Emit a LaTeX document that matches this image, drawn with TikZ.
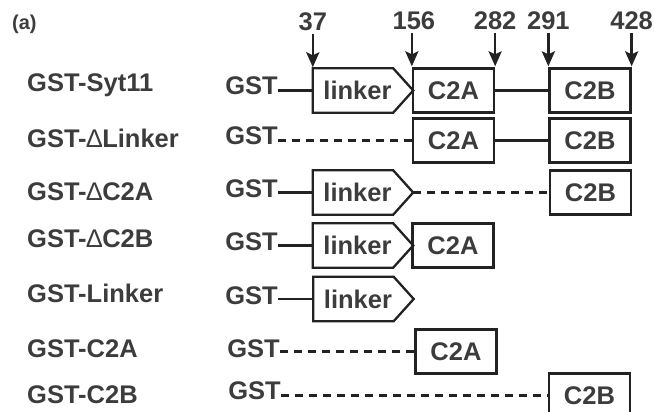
\documentclass[tikz,border=0pt]{standalone}
\usepackage{fontspec}
\setmainfont{Liberation Sans}
\usetikzlibrary{arrows.meta}
\definecolor{txt}{HTML}{3C3C3C}
\definecolor{ink}{HTML}{222222}
\tikzset{
  lbl/.style={font=\fontsize{25.5}{28}\selectfont\bfseries, text=txt, inner sep=0pt, anchor=base west},
  gst/.style={font=\fontsize{25.5}{28}\selectfont\bfseries, text=txt, inner sep=0pt, anchor=base east},
  num/.style={font=\fontsize{25.5}{28}\selectfont\bfseries, text=txt, inner sep=0pt, anchor=base},
  dom/.style={draw=ink, line width=2.3pt, minimum width=81pt, minimum height=44pt, inner sep=0pt,
     font=\fontsize{25.5}{28}\selectfont\bfseries, text=txt},
  lkbox/.style={draw=none, minimum width=80pt, minimum height=44pt, inner sep=0pt,
     font=\fontsize{25.5}{28}\selectfont\bfseries, text=txt},
  lkshape/.style={draw=ink, line width=2.3pt, line join=miter},
  solidc/.style={draw=ink, line width=2.8pt},
  dashc/.style={draw=ink, line width=2.5pt, dash pattern=on 8pt off 6pt},
  arr/.style={draw=ink, line width=2.6pt, -{Stealth[width=13pt,length=15pt,inset=3pt]}},
}
\newcommand{\linkerat}[3]{%
  \node[lkbox] (#1) at (#2,#3) {\hspace*{9pt}linker};
  \draw[lkshape] (#1.north west) -- (#1.north east) -- ([xshift=20pt]#1.east) -- (#1.south east) -- (#1.south west) -- cycle;
  \coordinate (#1tip) at ([xshift=20pt]#1.east);
}
\begin{document}
\begin{tikzpicture}[x=1pt,y=-1pt]
\useasboundingbox (0,0) rectangle (654,412);

% panel label
\node[font=\fontsize{20}{22}\selectfont\bfseries, text=txt, inner sep=0pt, anchor=base west] (pa) at (12,30) {(a)};

% left labels
\node[lbl] (l1) at (27,92) {GST-Syt11};
\node[lbl] (l2) at (27,147) {GST-{\mdseries ∆}Linker};
\node[lbl] (l3) at (27,200) {GST-{\mdseries ∆}C2A};
\node[lbl] (l4) at (27,247) {GST-{\mdseries ∆}C2B};
\node[lbl] (l5) at (27,302) {GST-Linker};
\node[lbl] (l6) at (27,357) {GST-C2A};
\node[lbl] (l7) at (27,403) {GST-C2B};

% GST labels
\node[gst] (g1) at (278,95) {GST};
\node[gst] (g2) at (278,145) {GST};
\node[gst] (g3) at (278,197) {GST};
\node[gst] (g4) at (278,250) {GST};
\node[gst] (g5) at (278,304) {GST};
\node[gst] (g6) at (280,357) {GST};
\node[gst] (g7) at (281,399) {GST};

% Row 1
\linkerat{lk1}{353}{90.5}
\node[dom] (a1) at (453.5,90.5) {C2A};
\node[dom] (b1) at (590,90.5) {C2B};
\draw[solidc] (g1.east |- lk1.west) -- (lk1.west);
\draw[solidc] (a1.east) -- (b1.west);

% Row 2
\node[dom] (a2) at (453.5,140.5) {C2A};
\node[dom] (b2) at (590,140.5) {C2B};
\draw[dashc] (g2.east |- a2.west) -- (a2.west);
\draw[solidc] (a2.east) -- (b2.west);

% Row 3
\linkerat{lk3}{353}{192.5}
\node[dom] (b3) at (590.5,192.5) {C2B};
\draw[solidc] (g3.east |- lk3.west) -- (lk3.west);
\draw[dashc] (lk3tip) -- (b3.west);

% Row 4
\linkerat{lk4}{353}{245.5}
\node[dom] (a4) at (453,245.5) {C2A};
\draw[solidc] (g4.east |- lk4.west) -- (lk4.west);

% Row 5
\linkerat{lk5}{353.5}{299}
\draw[solidc] (g5.east |- lk5.west) -- (lk5.west);

% Row 6
\node[dom] (a6) at (456,351.5) {C2A};
\draw[dashc] (g6.east |- a6.west) -- (a6.west);

% Row 7
\node[dom] (b7) at (589.5,395.5) {C2B};
\draw[dashc] (g7.east |- b7.west) -- (b7.west);

% numbers and arrows
\node[num] (n37) at ([yshift=38pt]lk1.north west) {37};
\node[num] (n156) at ([xshift=2pt,yshift=38pt]a1.north west) {156};
\node[num] (n282) at ([yshift=38pt]a1.north east) {282};
\node[num] (n291) at ([yshift=38pt]b1.north west) {291};
\node[num] (n428) at ([yshift=38pt]b1.north east) {428};
\draw[arr] ([yshift=-3pt]n37.south) -- ([yshift=1pt]lk1.north west);
\draw[arr] ([xshift=-2pt,yshift=-3pt]n156.south) -- ([yshift=1pt]a1.north west);
\draw[arr] ([yshift=-3pt]n282.south) -- ([yshift=1pt]a1.north east);
\draw[arr] ([yshift=-3pt]n291.south) -- ([yshift=1pt]b1.north west);
\draw[arr] ([yshift=-3pt]n428.south) -- ([yshift=1pt]b1.north east);
\end{tikzpicture}
\end{document}
